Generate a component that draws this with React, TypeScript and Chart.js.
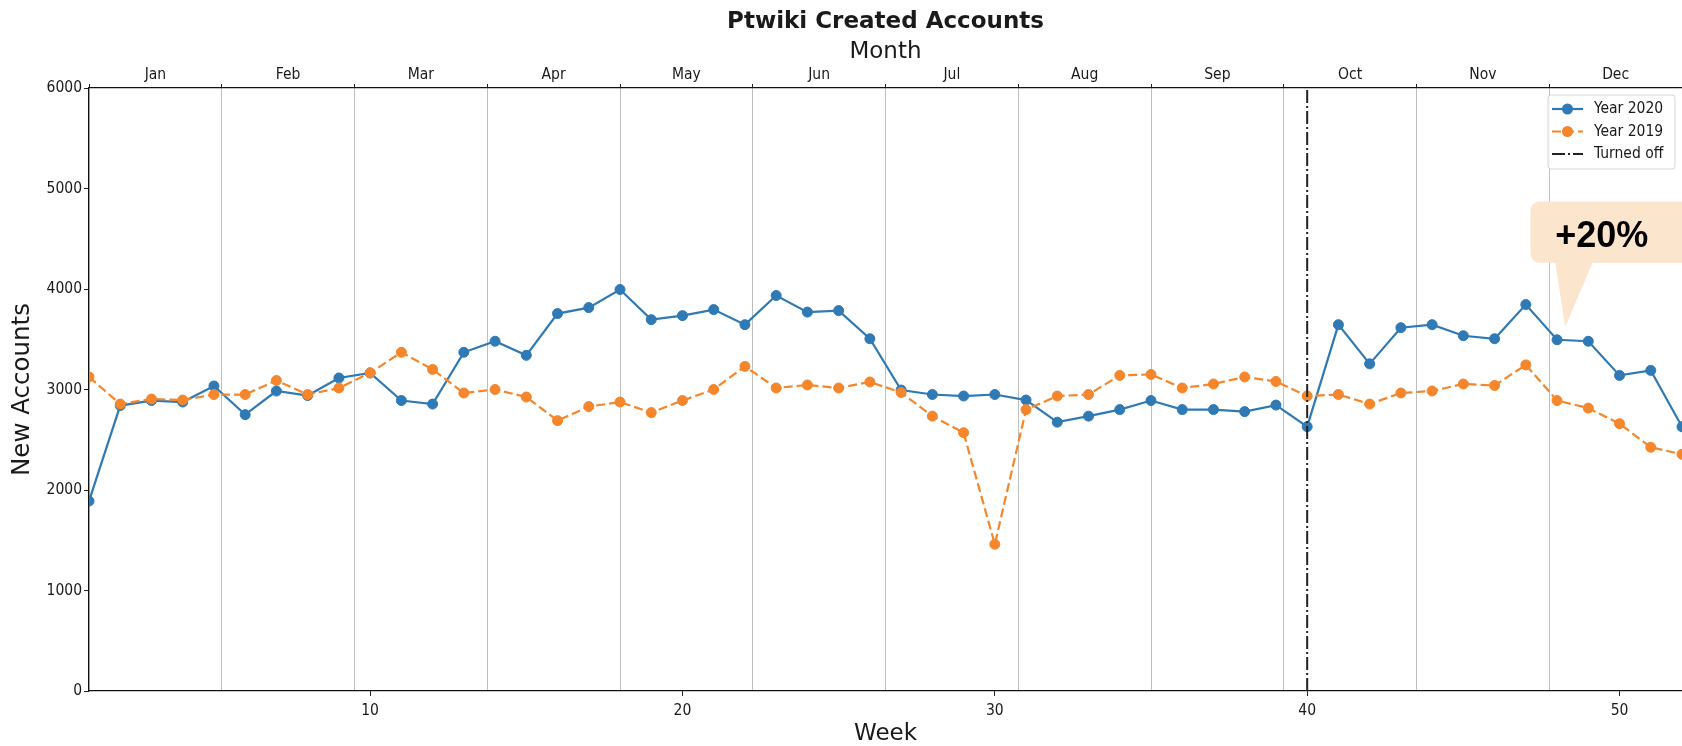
import React, { useEffect, useRef } from 'react';
import { Chart, registerables } from 'chart.js';

Chart.register(...registerables);

// ---------- data ----------
const weeks = [
  1, 2, 3, 4, 5, 6, 7, 8, 9, 10, 11, 12, 13, 14, 15, 16, 17, 18, 19, 20, 21, 22, 23, 24, 25, 26,
  27, 28, 29, 30, 31, 32, 33, 34, 35, 36, 37, 38, 39, 40, 41, 42, 43, 44, 45, 46, 47, 48, 49, 50, 51, 52,
];
const accounts2020 = [
  1890, 2840, 2890, 2875, 3035, 2750, 2985, 2940, 3115, 3165, 2890, 2855, 3370, 3480, 3340, 3755,
  3815, 3995, 3695, 3735, 3795, 3645, 3935, 3770, 3785, 3505, 2995, 2950, 2935, 2950, 2895, 2675,
  2735, 2800, 2890, 2800, 2800, 2780, 2845, 2630, 3645, 3255, 3615, 3645, 3535, 3505, 3845, 3495,
  3480, 3140, 3190, 2630,
];
const accounts2019 = [
  3125, 2855, 2905, 2895, 2950, 2950, 3090, 2950, 3015, 3165, 3370, 3200, 2965, 3000, 2925, 2690,
  2830, 2875, 2770, 2890, 3000, 3230, 3015, 3045, 3015, 3075, 2970, 2735, 2570, 1460, 2800, 2935,
  2950, 3140, 3150, 3015, 3055, 3125, 3080, 2935, 2950, 2855, 2965, 2985, 3055, 3040, 3245, 2890,
  2815, 2660, 2425, 2355,
];
const months = ['Jan', 'Feb', 'Mar', 'Apr', 'May', 'Jun', 'Jul', 'Aug', 'Sep', 'Oct', 'Nov', 'Dec'];
const weekTicks = [10, 20, 30, 40, 50];
const seriesLabels = ['Year 2020', 'Year 2019', 'Turned off'];
const turnedOffWeek = 40;
const weekRange = [1, 52];
const accountRange = [0, 6000];
const chartTitle = 'Ptwiki Created Accounts';
const monthTitle = 'Month';
const weekTitle = 'Week';
const accountsTitle = 'New Accounts';
const calloutText = '+20%';

// annotation anchor (in data units)
const callout = {
  boxLeftWeek: 47.15,
  boxTopValue: 4870,
  boxBottomValue: 4260,
  baseFromWeek: 47.94,
  baseToWeek: 49.15,
  tipWeek: 48.26,
  tipValue: 3622,
  textWeek: 47.94,
  textValue: 4418,
};

// ---------- styles ----------
const FONT = "'DejaVu Sans', 'Noto Sans', sans-serif";
const FONT_COND = "'DejaVu Sans Condensed', 'DejaVu Sans', sans-serif";
const TICK_SIZE = 15.5;
const TEXT = '#1a1a1a';
const BLUE = '#2f79b5';
const ORANGE = '#f5862b';
const VLINE = '#222222';
const DASH_2019 = [9, 4];
const DASH_OFF = [13, 3, 2, 3];

const decorPlugin = {
  id: 'decor',
  afterDraw(chart: any) {
    const { ctx, chartArea, scales } = chart;
    const xs = scales.x;
    const ys = scales.y;
    ctx.save();

    // title
    ctx.font = `bold 23px ${FONT}`;
    ctx.fillStyle = TEXT;
    ctx.textAlign = 'center';
    ctx.textBaseline = 'middle';
    ctx.fillText(chartTitle, (chartArea.left + chartArea.right) / 2, 22);

    // legend
    const lw = 127;
    const lh = 74;
    const lx = chartArea.right - 7 - lw;
    const ly = chartArea.top + 7;
    ctx.beginPath();
    ctx.roundRect(lx, ly, lw, lh, 3);
    ctx.fillStyle = 'rgba(255,255,255,0.85)';
    ctx.fill();
    ctx.strokeStyle = '#d4d4d4';
    ctx.lineWidth = 1;
    ctx.stroke();

    const rows = [
      { color: BLUE, dash: [] as number[], marker: true, width: 2.2 },
      { color: ORANGE, dash: DASH_2019, marker: true, width: 2.2 },
      { color: VLINE, dash: DASH_OFF, marker: false, width: 2 },
    ];
    rows.forEach((r, i) => {
      const cy = ly + 14 + i * 22.5;
      const x1 = lx + 4;
      const x2 = lx + 35;
      ctx.beginPath();
      ctx.setLineDash(r.dash);
      ctx.strokeStyle = r.color;
      ctx.lineWidth = r.width;
      ctx.moveTo(x1, cy);
      ctx.lineTo(x2, cy);
      ctx.stroke();
      ctx.setLineDash([]);
      if (r.marker) {
        ctx.beginPath();
        ctx.fillStyle = r.color;
        ctx.arc((x1 + x2) / 2, cy, 5.5, 0, Math.PI * 2);
        ctx.fill();
      }
      ctx.font = `${TICK_SIZE}px ${FONT_COND}`;
      ctx.fillStyle = TEXT;
      ctx.textAlign = 'left';
      ctx.textBaseline = 'middle';
      ctx.fillText(seriesLabels[i], lx + 46, cy);
    });

    // callout
    const bx = xs.getPixelForValue(callout.boxLeftWeek);
    const by1 = ys.getPixelForValue(callout.boxTopValue);
    const by2 = ys.getPixelForValue(callout.boxBottomValue);
    const bx2 = chart.width + 20;
    ctx.fillStyle = '#fce5cd';
    ctx.beginPath();
    ctx.roundRect(bx, by1, bx2 - bx, by2 - by1, 9);
    ctx.fill();
    ctx.beginPath();
    ctx.moveTo(xs.getPixelForValue(callout.baseFromWeek), by2 - 1);
    ctx.lineTo(xs.getPixelForValue(callout.baseToWeek), by2 - 1);
    ctx.lineTo(xs.getPixelForValue(callout.tipWeek), ys.getPixelForValue(callout.tipValue));
    ctx.closePath();
    ctx.fill();
    ctx.font = "bold 36px 'Liberation Sans', Arial, sans-serif";
    ctx.fillStyle = '#000';
    ctx.textAlign = 'left';
    ctx.textBaseline = 'alphabetic';
    ctx.fillText(calloutText, xs.getPixelForValue(callout.textWeek), ys.getPixelForValue(callout.textValue));

    ctx.restore();
  },
};

export default function App() {
  const canvasRef = useRef<HTMLCanvasElement | null>(null);

  useEffect(() => {
    if (!canvasRef.current) return;
    const tickFont = { family: FONT_COND, size: TICK_SIZE };
    const titleFont = { family: FONT, size: 23 };
    const chart = new Chart(canvasRef.current, {
      type: 'line',
      data: {
        datasets: [
          {
            label: seriesLabels[2],
            data: [
              { x: turnedOffWeek, y: accountRange[0] },
              { x: turnedOffWeek, y: accountRange[1] },
            ],
            borderColor: VLINE,
            borderWidth: 2,
            borderDash: DASH_OFF,
            pointRadius: 0,
            order: 0,
          },
          {
            label: seriesLabels[1],
            data: weeks.map((w, i) => ({ x: w, y: accounts2019[i] })),
            borderColor: ORANGE,
            backgroundColor: ORANGE,
            borderWidth: 2.2,
            borderDash: DASH_2019,
            pointRadius: 5,
            pointBorderWidth: 1,
            pointBorderColor: ORANGE,
            pointBackgroundColor: ORANGE,
            order: 1,
          },
          {
            label: seriesLabels[0],
            data: weeks.map((w, i) => ({ x: w, y: accounts2020[i] })),
            borderColor: BLUE,
            backgroundColor: BLUE,
            borderWidth: 2.2,
            pointRadius: 5,
            pointBorderWidth: 1,
            pointBorderColor: BLUE,
            pointBackgroundColor: BLUE,
            order: 2,
          },
        ],
      },
      options: {
        responsive: false,
        animation: false,
        layout: { padding: 0, autoPadding: false },
        plugins: {
          legend: { display: false },
          title: { display: false },
          tooltip: { enabled: false },
        },
        scales: {
          x: {
            type: 'linear',
            position: 'bottom',
            min: weekRange[0],
            max: weekRange[1],
            afterBuildTicks: (axis: any) => {
              axis.ticks = weekTicks.map((v) => ({ value: v }));
            },
            afterFit: (axis: any) => {
              axis.height = 55;
            },
            grid: { drawOnChartArea: false, drawTicks: true, tickLength: 5, tickColor: '#222' },
            border: { display: true, color: '#111', width: 1.2 },
            ticks: { font: tickFont, color: TEXT, padding: 6, maxRotation: 0, callback: (v: any) => String(v) },
            title: { display: true, text: weekTitle, font: titleFont, color: TEXT, padding: { top: 0, bottom: -2 } },
          },
          x2: {
            type: 'category',
            position: 'top',
            labels: months,
            offset: true,
            afterFit: (axis: any) => {
              axis.height = 88;
            },
            grid: {
              offset: true,
              drawOnChartArea: true,
              drawTicks: true,
              tickLength: 4,
              color: 'rgba(0,0,0,0.25)',
              tickColor: '#222',
              lineWidth: 1,
            },
            border: { display: true, color: '#111', width: 1.2 },
            ticks: { font: tickFont, color: TEXT, padding: 0, maxRotation: 0 },
            title: { display: true, text: monthTitle, font: titleFont, color: TEXT, padding: { top: 38, bottom: 0 } },
          },
          y: {
            type: 'linear',
            position: 'left',
            min: accountRange[0],
            max: accountRange[1],
            afterFit: (axis: any) => {
              axis.width = 89;
            },
            grid: { drawOnChartArea: false, drawTicks: true, tickLength: 5, tickColor: '#222' },
            border: { display: true, color: '#111', width: 1.2 },
            ticks: { stepSize: 1000, font: tickFont, color: TEXT, padding: 2, callback: (v: any) => String(v) },
            title: {
              display: true,
              text: accountsTitle,
              font: { family: FONT, size: 24.5 },
              color: TEXT,
              padding: { top: 8, bottom: 0 },
            },
          },
        },
      },
      plugins: [decorPlugin],
    } as any);
    return () => chart.destroy();
  }, []);

  return (
    <div style={{ position: 'absolute', left: 0, top: 0, width: 1682, height: 746, background: '#fff' }}>
      <canvas ref={canvasRef} width={1682} height={746} style={{ display: 'block' }} />
    </div>
  );
}
